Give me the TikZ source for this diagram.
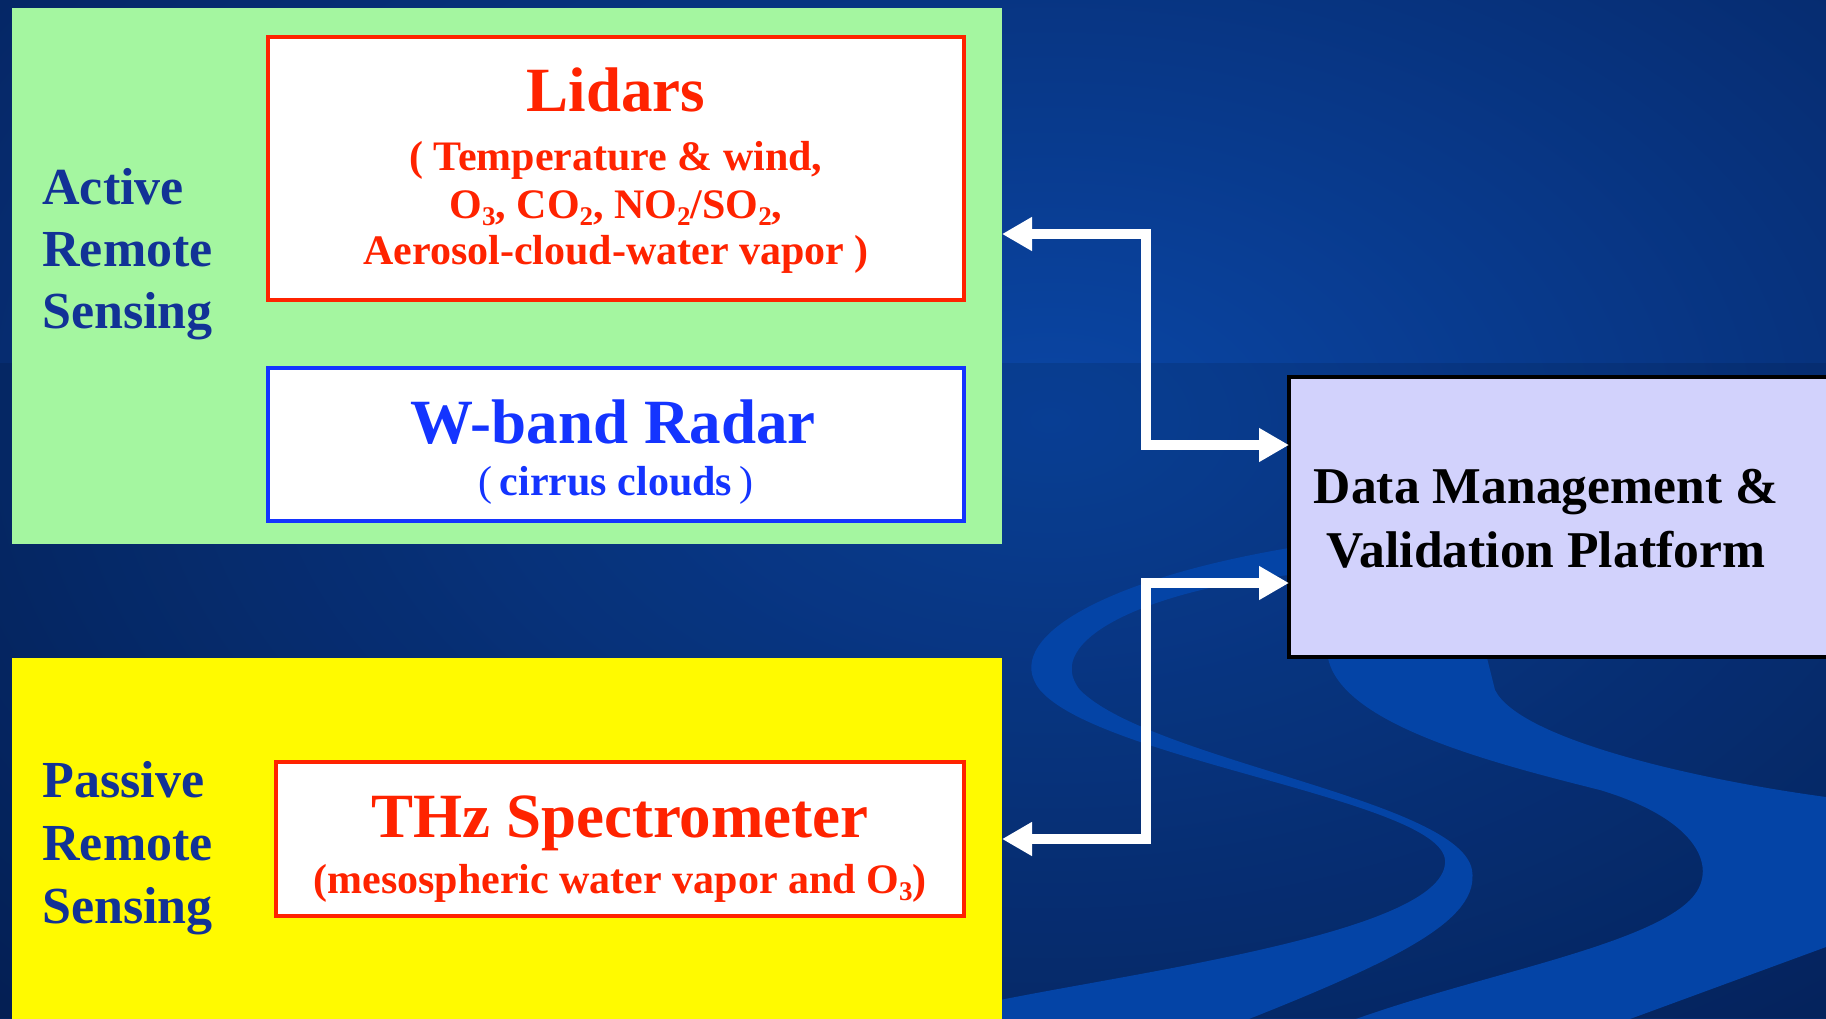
\documentclass[tikz,border=0pt]{standalone}
\usepackage{fontspec}
\setmainfont{Liberation Serif}
\usetikzlibrary{arrows.meta}

\definecolor{panelgreen}{RGB}{164,246,160}
\definecolor{panelyellow}{RGB}{255,250,0}
\definecolor{lidarred}{RGB}{255,35,0}
\definecolor{radarblue}{RGB}{20,52,255}
\definecolor{labelnavy}{RGB}{18,50,150}
\definecolor{platformfill}{RGB}{210,210,252}
\definecolor{oceandark}{RGB}{4,30,84}
\definecolor{oceanmid}{RGB}{10,70,165}
\definecolor{swoosh}{RGB}{4,68,166}

% low, small index for the gas names
\newcommand{\chemsub}[1]{\raisebox{-0.4ex}{\fontsize{13.5}{13.5}\selectfont #1}}

\begin{document}
\begin{tikzpicture}[x=0.5pt,y=-0.5pt,
    panel/.style={inner sep=0pt,outer sep=0pt},
    instbox/.style={draw,line width=2.25pt,fill=white,inner sep=0pt,outer sep=0pt},
    side/.style={anchor=base west,inner sep=0pt,text=labelnavy,font=\fontsize{26}{31}\selectfont\bfseries},
    title/.style={anchor=base,inner sep=0pt,font=\fontsize{31.5}{36}\selectfont\bfseries},
    detail/.style={anchor=base,inner sep=0pt,font=\fontsize{21}{23}\selectfont\bfseries},
    flow/.style={draw=white,line width=5pt,{Triangle[length=15pt,width=16pt]}-{Triangle[length=15pt,width=16pt]}}]
        \useasboundingbox (0,0) rectangle (1826,1018);
        \clip (0,0) rectangle (1826,1018);
        %% Background
        \shade[inner color=oceanmid,outer color=oceandark] (-550,-580) rectangle (2650,1420);
        \fill[black,opacity=0.1] (0,363) rectangle (1826,1018);
        \fill[swoosh] (1289,548) .. controls (1100,580) and (1000,640) .. (1040,690)
            .. controls (1100,760) and (1440,800) .. (1445,860)
            .. controls (1450,930) and (1150,970) .. (1000,1000) -- (1000,1030) -- (1221,1030)
            .. controls (1400,960) and (1480,920) .. (1472,870)
            .. controls (1460,800) and (1150,760) .. (1080,690)
            .. controls (1040,640) and (1150,590) .. (1289,575) -- cycle;
        \fill[swoosh] (1327,650) .. controls (1330,720) and (1480,760) .. (1600,790)
            .. controls (1700,820) and (1720,870) .. (1690,900)
            .. controls (1640,950) and (1450,980) .. (1327,1030) -- (1600,1030)
            -- (1826,947) -- (1826,797) .. controls (1700,780) and (1520,740) .. (1495,690)
            -- (1485,650) -- cycle;
        %% Panels
        \node[panel,fill=panelgreen,minimum width=495pt,minimum height=268pt] (active) at (507,276) {};
        \node[panel,fill=panelyellow,minimum width=495pt,minimum height=192pt] (passive) at (507,850) {};
        %% Instruments
        \node[instbox,draw=lidarred,minimum width=348pt,minimum height=131.5pt] (lidar) at (616,168.5) {};
        \node[instbox,draw=radarblue,minimum width=348pt,minimum height=76.5pt] (radar) at (616,444.5) {};
        \node[instbox,draw=lidarred,minimum width=344pt,minimum height=77pt] (thz) at (620,839) {};
        \node[panel,draw=black,line width=2pt,fill=platformfill,minimum width=285.5pt,minimum height=140pt] (data) at (1574.5,517) {};
        %% Side labels
        \node[side] (actA) at (42,204) {Active};
        \node[side] (actB) at (42,266) {Remote};
        \node[side] (actC) at (42,328) {Sensing};
        \node[side] (pasA) at (42,797) {Passive};
        \node[side] (pasB) at (42,860) {Remote};
        \node[side] (pasC) at (42,923) {Sensing};
        %% Box texts
        \node[title,text=lidarred] (lidarT) at (616,111) {Lidars};
        \node[detail,text=lidarred] (lidarA) at (616,170) {( Temperature \& wind,};
        \node[detail,text=lidarred] (lidarB) at (616,218) {O\chemsub{3}, CO\chemsub{2}, NO\chemsub{2}/SO\chemsub{2},};
        \node[detail,text=lidarred] (lidarC) at (616,264) {Aerosol-cloud-water vapor )};
        \node[title,text=radarblue] (radarT) at (613,443) {W-band Radar};
        \node[detail,text=radarblue] (radarA) at (616,495) {{\mdseries(}\,cirrus clouds\,{\mdseries)}};
        \node[title,text=lidarred] (thzT) at (620,837) {THz Spectrometer};
        \node[detail,text=lidarred] (thzA) at (620,893) {(mesospheric water vapor and O\chemsub{3})};
        \node[detail,font=\fontsize{25.8}{32}\selectfont\bfseries] (dataA) at (1546,503) {Data Management \&};
        \node[detail,font=\fontsize{25.8}{32}\selectfont\bfseries] (dataB) at (1546,567) {Validation Platform};
        %% Arrows
        \draw[flow] (active.east |- 0,234) -| (1146,445) -- (data.west |- 0,445);
        \draw[flow] (passive.east |- thz.center) -| (1146,583) -- (data.west |- 0,583);
\end{tikzpicture}
\end{document}
